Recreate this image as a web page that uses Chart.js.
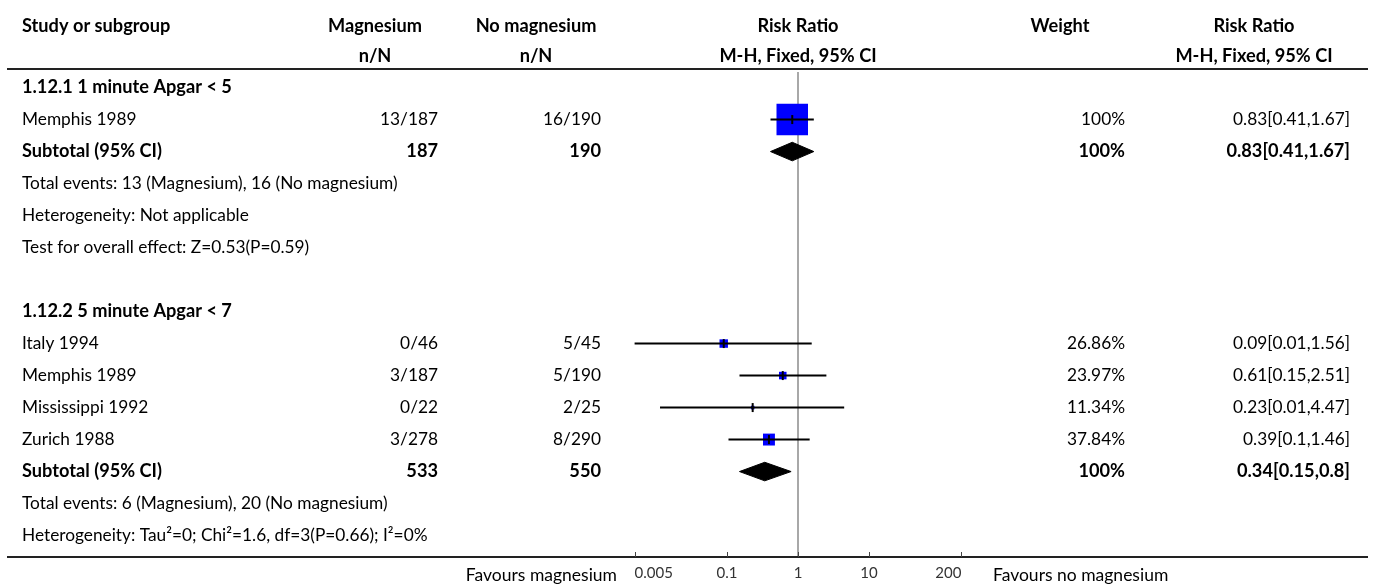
<!DOCTYPE html>
<html>
<head>
<meta charset="utf-8">
<script src="https://cdn.jsdelivr.net/npm/chart.js@4.4.0/dist/chart.umd.min.js"></script>
<style>
body { margin: 0; background: #fff; }
#forest { display: block; }
</style>
</head>
<body>
<canvas id="forest" width="1373" height="585"></canvas>
<script>
// dados do forest plot
const groupTitles = ['1.12.1 1 minute Apgar < 5', '1.12.2 5 minute Apgar < 7'];
const groupRows = [0, 7];

const studies = ['Memphis 1989', 'Italy 1994', 'Memphis 1989', 'Mississippi 1992', 'Zurich 1988'];
const studyRows = [1, 8, 9, 10, 11];
const magEvents = ['13/187', '0/46', '3/187', '0/22', '3/278'];
const noMagEvents = ['16/190', '5/45', '5/190', '2/25', '8/290'];
const rr = [0.83, 0.09, 0.61, 0.23, 0.39];
const ciLow = [0.41, 0.005, 0.15, 0.0114, 0.105];
const ciHigh = [1.67, 1.56, 2.51, 4.47, 1.46];
const weights = [100, 26.86, 23.97, 11.34, 37.84];
const ciText = ['0.83[0.41,1.67]', '0.09[0.01,1.56]', '0.61[0.15,2.51]', '0.23[0.01,4.47]', '0.39[0.1,1.46]'];

const subRows = [2, 12];
const subMagN = ['187', '533'];
const subNoMagN = ['190', '550'];
const subRR = [0.83, 0.34];
const subLow = [0.41, 0.15];
const subHigh = [1.67, 0.8];
const subWeight = ['100%', '100%'];
const subText = ['0.83[0.41,1.67]', '0.34[0.15,0.8]'];

const noteRows = [3, 4, 5, 13, 14];
const notes = [
    'Total events: 13 (Magnesium), 16 (No magnesium)',
    'Heterogeneity: Not applicable',
    'Test for overall effect: Z=0.53(P=0.59)',
    'Total events: 6 (Magnesium), 20 (No magnesium)',
    'Heterogeneity: Tau\u00b2=0; Chi\u00b2=1.6, df=3(P=0.66); I\u00b2=0%'
];

const tickValues = [0.005, 0.1, 1, 10, 200];
const tickLabels = ['0.005', '0.1', '1', '10', '200'];

// layout
const FONT = 'Lato';
const FS = 17.3, FSB = 18.2;
const colStudy = 22, colMag = 438, colNoMag = 601, colWeight = 1125, colCI = 1350;
const hdrMag = 375, hdrNoMag = 536, hdrRR = 798, hdrW = 1060, hdrRR2 = 1254;

Chart.defaults.font.family = FONT;

// linhas dos IC
const ciSets = studies.map((s, i) => ({
    type: 'line',
    data: [{x: ciLow[i], y: studyRows[i]}, {x: ciHigh[i], y: studyRows[i]}],
    borderColor: '#000',
    borderWidth: 2,
    pointRadius: 0,
    order: 2
}));

// diamantes
const diamondSets = subRows.map((r, i) => ({
    type: 'line',
    data: [
        {x: subLow[i], y: r},
        {x: subRR[i], y: r - 0.29},
        {x: subHigh[i], y: r},
        {x: subRR[i], y: r + 0.29},
        {x: subLow[i], y: r}
    ],
    borderColor: '#000',
    backgroundColor: '#000',
    borderWidth: 1,
    fill: 'shape',
    tension: 0,
    pointRadius: 0,
    order: 1
}));

const tablePlugin = {
    id: 'tabela',
    afterDraw(chart) {
        const ctx = chart.ctx;
        const y = chart.scales.y;
        const x = chart.scales.x;
        const W = chart.width;
        ctx.save();
        // linhas horizontais
        ctx.strokeStyle = '#222';
        ctx.lineWidth = 2;
        ctx.beginPath();
        ctx.moveTo(7, y.top); ctx.lineTo(W - 5, y.top);
        ctx.moveTo(7, y.bottom); ctx.lineTo(W - 5, y.bottom);
        ctx.stroke();
        // ticks para cima
        ctx.strokeStyle = '#444';
        ctx.lineWidth = 1;
        ctx.beginPath();
        tickValues.forEach(v => {
            const px = Math.round(x.getPixelForValue(v)) + 0.5;
            ctx.moveTo(px, y.bottom); ctx.lineTo(px, y.bottom - 5);
        });
        ctx.stroke();

        ctx.fillStyle = '#000';
        ctx.textBaseline = 'middle';
        const txt = (s, px, row, align, bold) => {
            ctx.font = (bold ? 'bold ' + FSB : FS) + 'px ' + FONT;
            ctx.textAlign = align;
            ctx.fillText(s, px, y.getPixelForValue(row));
        };
        // cabeçalho
        const h1 = -1.93, h2 = -0.98;
        txt('Study or subgroup', colStudy, h1, 'left', true);
        txt('Magnesium', hdrMag, h1, 'center', true);
        txt('No magnesium', hdrNoMag, h1, 'center', true);
        txt('Risk Ratio', hdrRR, h1, 'center', true);
        txt('Weight', hdrW, h1, 'center', true);
        txt('Risk Ratio', hdrRR2, h1, 'center', true);
        txt('n/N', hdrMag, h2, 'center', true);
        txt('n/N', hdrNoMag, h2, 'center', true);
        txt('M-H, Fixed, 95% CI', hdrRR, h2, 'center', true);
        txt('M-H, Fixed, 95% CI', hdrRR2, h2, 'center', true);

        groupTitles.forEach((g, i) => txt(g, colStudy, groupRows[i], 'left', true));
        studies.forEach((s, i) => {
            const r = studyRows[i];
            txt(s, colStudy, r, 'left', false);
            txt(magEvents[i], colMag, r, 'right', false);
            txt(noMagEvents[i], colNoMag, r, 'right', false);
            txt(weights[i] + '%', colWeight, r, 'right', false);
            txt(ciText[i], colCI, r, 'right', false);
        });
        subRows.forEach((r, i) => {
            txt('Subtotal (95% CI)', colStudy, r, 'left', true);
            txt(subMagN[i], colMag, r, 'right', true);
            txt(subNoMagN[i], colNoMag, r, 'right', true);
            txt(subWeight[i], colWeight, r, 'right', true);
            txt(subText[i], colCI, r, 'right', true);
        });
        notes.forEach((n, i) => txt(n, colStudy, noteRows[i], 'left', false));

        // rótulos "Favours"
        ctx.font = '17.5px ' + FONT;
        ctx.textBaseline = 'alphabetic';
        ctx.textAlign = 'right';
        ctx.fillText('Favours magnesium', 617, y.bottom + 24);
        ctx.textAlign = 'left';
        ctx.fillText('Favours no magnesium', 993, y.bottom + 24);
        ctx.restore();
    }
};

new Chart(document.getElementById('forest').getContext('2d'), {
    type: 'scatter',
    data: {
        datasets: [
            {
                // linha de nulidade
                type: 'line',
                data: [{x: 1, y: -0.49}, {x: 1, y: 14.7}],
                borderColor: '#a8a8a8',
                borderWidth: 2,
                pointRadius: 0,
                order: 10
            },
            ...ciSets,
            {
                // quadrados (tamanho pelo peso)
                data: studies.map((s, i) => ({x: rr[i], y: studyRows[i]})),
                pointStyle: 'rect',
                pointRadius: weights.map(w => Math.max(2.5, w * 0.315) / Math.SQRT2),
                pointBackgroundColor: '#0000ff',
                pointBorderWidth: 0,
                borderWidth: 0,
                order: 3
            },
            {
                // traço vertical da estimativa
                data: studies.map((s, i) => ({x: rr[i], y: studyRows[i]})),
                pointStyle: 'line',
                rotation: 90,
                pointRadius: 4.5,
                pointBorderColor: '#000',
                pointBorderWidth: 2,
                order: 1
            },
            ...diamondSets
        ]
    },
    options: {
        responsive: false,
        animation: false,
        devicePixelRatio: 1,
        layout: {
            padding: {left: 625, right: 402, top: 69, bottom: 0}
        },
        plugins: {
            legend: { display: false },
            tooltip: { enabled: false }
        },
        scales: {
            x: {
                type: 'logarithmic',
                min: 1 / 273,
                max: 273,
                afterBuildTicks: s => { s.ticks = tickValues.map(v => ({value: v})); },
                afterFit: s => { s.height = 28; },
                grid: { display: false, drawTicks: false },
                border: { display: true, color: '#000', width: 2 },
                ticks: {
                    autoSkip: false,
                    maxRotation: 0,
                    align: 'inner',
                    padding: 7,
                    color: '#333',
                    font: { size: 15, family: FONT },
                    callback: (v, i) => tickLabels[i]
                }
            },
            y: {
                type: 'linear',
                min: -0.58,
                max: 14.67,
                reverse: true,
                display: false
            }
        }
    },
    plugins: [tablePlugin]
});
</script>
</body>
</html>
